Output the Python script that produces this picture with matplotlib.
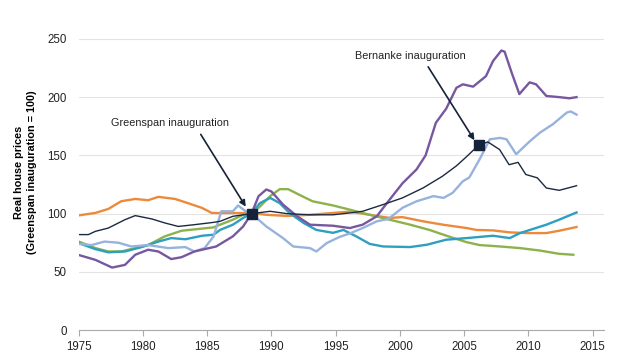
import matplotlib.pyplot as plt

plt.rcParams['font.family'] = ['Liberation Sans', 'DejaVu Sans']

# series (year, real house price index)
navy_x = [1975, 1975.75, 1976.3, 1977.3, 1978.6, 1979.4, 1980.7, 1981.7, 1982.75, 1984, 1985.5,
          1986, 1987, 1988.45, 1989.9, 1991.2, 1993, 1994.8, 1996.1, 1997.1, 1998.7, 2000.2,
          2001.8, 2003.3, 2004.4, 2005.2, 2006.15, 2006.85, 2007.76, 2008.5, 2009.2, 2009.8,
          2010.7, 2011.4, 2012.4, 2013.6, 2013.75]
navy_y = [82, 82, 84.8, 87.6, 94.8, 98.3, 95.4, 92, 89, 90.5, 92.5,
          93.4, 97.7, 100, 102, 100, 99, 99, 100.6, 102, 107.8, 113.5,
          122, 132, 141, 149, 159, 161.5, 155, 142, 144, 133.6,
          130.7, 122, 120, 123.5, 124]

purple_x = [1975, 1976.3, 1977.6, 1978.6, 1979.4, 1980.4, 1981.2, 1982.2, 1983, 1984, 1985.7,
            1987, 1987.8, 1988.45, 1989, 1989.6, 1990, 1990.9, 1992, 1993, 1994.8, 1996.1,
            1997.1, 1998.2, 1999.1, 2000.2, 2001.3, 2002, 2002.8, 2003.6, 2004.4, 2004.9,
            2005.7, 2006.7, 2007.25, 2007.9, 2008.15, 2008.7, 2009.3, 2010.1, 2010.6, 2011.4,
            2012.4, 2013.2, 2013.75]
purple_y = [64.5, 60.3, 53.7, 56, 64.7, 69, 67.5, 61, 62.6, 67.5, 71.8,
            80.5, 89, 100, 115, 120.7, 119, 107.8, 97.7, 90.5, 89.6, 87.6,
            90.5, 97.7, 110.6, 126, 138, 150, 178, 190, 208, 211,
            209, 218, 231, 240, 239, 221, 202.6, 212.7, 211, 201,
            200, 199, 200]

lightblue_x = [1975, 1976, 1977, 1978.1, 1979.1, 1980.4, 1982, 1983.3, 1984, 1984.8, 1985.5,
               1986.1, 1987, 1987.4, 1988, 1988.45, 1989.6, 1990.9, 1991.7, 1993, 1993.5, 1994.3,
               1995.3, 1996.1, 1997.1, 1998.2, 1999.1, 2000.2, 2001.3, 2002.6, 2003.4, 2004.1,
               2004.9, 2005.4, 2006.2, 2007, 2007.8, 2008.3, 2009.05, 2010.1, 2010.9, 2011.9,
               2013, 2013.3, 2013.75]
lightblue_y = [74, 73, 76, 75, 71.8, 73, 70.4, 71.3, 67.5, 70.4, 80.5,
               102, 102, 107, 102, 100, 89, 79, 71.8, 70.4, 67.5, 74.7,
               80, 83, 87.6, 93.4, 95.4, 105, 110.6, 115, 113.5, 117.8,
               127.8, 131, 146.5, 163.8, 165, 163.8, 151, 162, 169.5, 176.7,
               186.8, 187.7, 185]

green_x = [1975, 1976.3, 1977.3, 1978.3, 1979.4, 1980.4, 1981.7, 1983, 1984.3, 1985.5, 1986,
           1987, 1987.8, 1988.45, 1989.1, 1989.9, 1990.65, 1991.3, 1992.2, 1993.2, 1994.8,
           1996.1, 1997.65, 1999.2, 2000.8, 2002.3, 2003.9, 2005.2, 2006.2, 2007.8, 2009.35,
           2010.9, 2012.4, 2013.5]
green_y = [76, 70.4, 67.5, 67.5, 70.4, 73, 80.5, 85.3, 86.8, 88.2, 90.5,
           94.8, 99, 100, 106, 115, 121, 121, 116, 110.6, 107,
           103.4, 99, 94.8, 90.5, 86, 80, 75.5, 73, 71.8, 70.4,
           68.3, 65.5, 64.7]

teal_x = [1975, 1976.3, 1977.3, 1978.6, 1979.9, 1981.2, 1982.2, 1983.3, 1984.6, 1985.5, 1986,
          1987, 1987.8, 1988.45, 1989.1, 1989.9, 1990.65, 1991.4, 1992.5, 1993.5, 1994.8,
          1995.6, 1996.6, 1997.65, 1998.7, 2000.8, 2002.1, 2003.6, 2005.2, 2006.2, 2007.25,
          2008.55, 2009.35, 2010.35, 2011.4, 2012.4, 2013.75]
teal_y = [74.7, 69.5, 66.8, 67.5, 71.3, 76, 79, 78, 81, 81.9, 86,
          90.5, 96.3, 100, 109, 113.5, 109, 100.6, 92, 86, 83.5,
          86, 80.5, 74, 71.8, 71.3, 73.3, 77.6, 79, 80, 81,
          79, 83.3, 86.8, 90.5, 94.8, 101]

orange_x = [1975, 1976.3, 1977.3, 1978.3, 1979.4, 1980.4, 1981.2, 1982.5, 1983.5, 1984.6, 1985.35,
            1986, 1988.45, 1989.6, 1991.2, 1993, 1994.8, 1996.1, 1997.65, 1999.2, 2000.2,
            2001.8, 2003.35, 2005.2, 2005.95, 2007.25, 2008.55, 2009.85, 2011.4, 2012.4, 2013.75]
orange_y = [98.5, 100.6, 104, 110.6, 112.6, 111.5, 114.4, 112.6, 109, 104.9, 100.6,
            100.5, 100.5, 99, 98, 99, 100.6, 101.7, 99, 96.3, 97,
            93.4, 90.5, 87.6, 86, 85.6, 83.9, 83.3, 83.3, 85.3, 88.5]

greenspan = (1988.45, 100)
bernanke = (2006.15, 159)

fig = plt.figure(figsize=(6.4, 3.6), dpi=100)
ax = fig.add_axes([0.123, 0.083, 0.821, 0.809])

ax.plot(orange_x, orange_y, color='#EC8A3C', lw=1.7)
ax.plot(green_x, green_y, color='#8DB24C', lw=1.7)
ax.plot(teal_x, teal_y, color='#2F9FBF', lw=1.7)
ax.plot(lightblue_x, lightblue_y, color='#97B3DD', lw=1.7)
ax.plot(purple_x, purple_y, color='#7758A0', lw=1.7)
ax.plot(navy_x, navy_y, color='#1B2A41', lw=1.0)

for pt in (greenspan, bernanke):
    ax.plot(*pt, marker='s', ms=6.5, color='#15223A', zorder=5)

arrow = dict(arrowstyle='-|>', color='#15223A', lw=1.2, shrinkA=0, shrinkB=0,
             mutation_scale=9)
ax.text(1977.5, 178, 'Greenspan inauguration', fontsize=7.8, color='#222222',
        ha='left', va='center')
ax.annotate('', xy=(1988.0, 106), xytext=(1984.5, 168), arrowprops=arrow)
ax.text(1996.5, 235, 'Bernanke inauguration', fontsize=7.8, color='#222222',
        ha='left', va='center')
ax.annotate('', xy=(2005.8, 163), xytext=(2002.2, 226), arrowprops=arrow)

ax.set_xlim(1975, 2015.9)
ax.set_ylim(0, 250)
ax.set_xticks(range(1975, 2016, 5))
ax.set_yticks(range(0, 251, 50))
ax.grid(axis='y', color='#E3E3E3', lw=0.8)
ax.set_axisbelow(True)
for s in ('top', 'right', 'left'):
    ax.spines[s].set_visible(False)
ax.spines['bottom'].set_color('#AAAAAA')
ax.tick_params(axis='y', length=0, pad=8.5, labelsize=8.3, labelcolor='#222222')
ax.tick_params(axis='x', length=4, color='#AAAAAA', labelsize=8.3, labelcolor='#222222')
ax.set_ylabel('Real house prices\n(Greenspan inauguration = 100)', fontsize=7.8,
              fontweight='bold', linespacing=1.35)
ax.yaxis.set_label_coords(-0.079, 0.543)

fig.savefig('out.png', dpi=100)
